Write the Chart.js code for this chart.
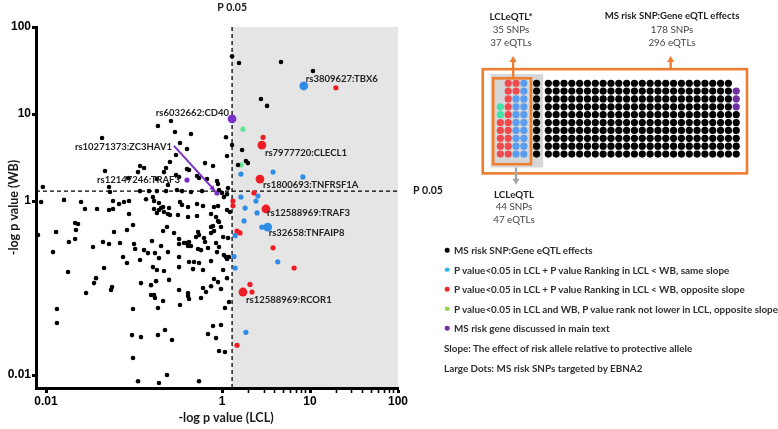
<!DOCTYPE html>
<html><head><meta charset="utf-8">
<script src="https://cdn.jsdelivr.net/npm/chart.js@4/dist/chart.umd.min.js"></script>
<style>
html,body{margin:0;padding:0;background:#fff;}
body{width:778px;height:429px;position:relative;overflow:hidden;font-family:Lato,"Open Sans",sans-serif;color:#333;}
#c1{position:absolute;left:0;top:0;}
#c2{position:absolute;left:440px;top:0;}
.t{position:absolute;white-space:nowrap;line-height:12px;transform:translate(-50%,-50%);}
.l{position:absolute;white-space:nowrap;line-height:12px;transform:translateY(-50%);font-weight:700;font-size:9.9px;color:#2e2e2e;}
.d{position:absolute;width:4.6px;height:4.6px;border-radius:50%;transform:translate(-50%,-50%);}
</style></head><body>
<canvas id="c1" width="460" height="429"></canvas>
<canvas id="c2" width="338" height="429"></canvas>
<div id="txt"></div>
<script>
// ---------- scatter data: -log p in LCL (x) vs -log p in WB (y) ----------
const blackLcl = [1.30,1.56,4.68,10.8,2.77,3.25,1.11,1.30,1.69,1.87,1.97,1.52,1.14,
0.187,0.263,0.292,0.0433,0.444,0.333,0.400,0.300,0.641,0.791,0.256,0.231,0.219,0.300,0.325,0.400,0.422,0.520,0.548,0.676,0.877,0.901,0.925,0.0468,0.117,0.130,0.111,0.0855,0.0520,0.0533,0.182,0.243,0.148,0.182,0.231,0.308,0.351,0.444,0.593,1.0,1.17,1.05,0.0088,0.0380,0.0520,0.117,0.137,0.164,0.169,0.192,0.214,0.250,0.333,0.351,0.411,0.520,0.608,0.811,0.901,1.14,1.23,1.14,
0.0092,0.0160,0.0250,0.0277,0.0577,0.0676,0.0769,0.0877,0.0577,
0.0877,0.0214,0.0231,0.0219,0.0130,0.0974,0.0832,0.0593,0.0081,0.0182,0.0214,0.0444,0.0520,0.0693,0.100,0.103,0.0120,0.0342,0.0750,0.0832,0.0456,0.0178,0.0370,0.0351,0.0562,0.0548,0.0285,
0.169,0.182,0.192,0.203,0.219,0.243,0.256,0.316,0.520,0.411,0.750,0.855,0.901,0.214,0.237,0.285,0.325,0.325,0.370,0.390,0.422,0.411,0.444,0.534,0.548,0.507,0.624,0.641,0.750,0.791,0.811,0.750,0.925,0.974,1.03,1.17,0.160,0.203,0.243,0.130,0.144,0.117,0.173,0.192,0.325,0.534,0.577,0.693,0.855,0.925,0.877,1.05,1.11,1.20,1.14,0.422,0.481,0.548,0.750,0.164,0.182,0.219,0.325,0.468,0.608,0.811,0.901,1.14,1.03,0.120,0.156,0.178,0.250,0.325,0.411,0.608,0.658,0.750,0.974,
0.156,0.169,0.173,0.214,0.187,0.333,0.411,0.422,0.577,1.08,1.20,0.120,0.187,0.225,0.270,0.693,0.791,0.974,0.855,0.925,1.08,0.111,0.192,0.237,0.548,
0.0133,0.0133,0.0974,0.0949,0.0974];
const blackWb = [46,38.6,39.6,31.2,14.9,12.4,5.4,4.4,3.86,2.88,2.73,2.59,3.29,
7.28,8.31,6.21,5.3,5.89,4.64,3.96,3.38,2.73,2.53,2.81,2.40,2.15,1.99,1.89,2.33,2.27,1.94,1.84,1.79,1.70,1.57,1.34,2.21,2.53,2.40,2.15,1.84,1.45,1.27,1.79,1.53,1.30,1.30,1.30,1.34,1.30,1.27,1.30,1.24,1.41,1.11,0.974,0.809,0.788,1.30,1.05,1.11,1.0,0.949,0.853,0.831,0.974,0.900,0.853,0.924,0.876,0.853,0.876,0.788,0.747,1.20,
1.45,1.03,0.974,0.809,1.0,0.924,0.974,1.0,0.809,
0.709,0.559,0.544,0.464,0.440,0.530,0.464,0.440,0.407,0.338,0.366,0.338,0.321,0.329,0.321,0.281,0.259,0.296,0.227,0.194,0.170,0.153,0.130,0.114,0.103,0.0949,0.0877,
0.809,0.728,0.788,0.831,0.747,0.709,0.690,0.690,0.672,0.655,0.709,0.655,0.589,0.452,0.503,0.429,0.366,0.321,0.329,0.329,0.338,0.304,0.304,0.440,0.407,0.386,0.376,0.338,0.503,0.516,0.452,0.429,0.574,0.503,0.386,0.376,0.347,0.304,0.259,0.273,0.252,0.210,0.252,0.221,0.227,0.281,0.273,0.288,0.329,0.296,0.259,0.239,0.227,0.227,0.216,0.199,0.199,0.194,0.204,0.174,0.161,0.157,0.174,0.165,0.161,0.127,0.117,0.130,0.161,0.114,0.108,0.120,0.124,0.0949,0.0877,0.100,0.0900,0.105,0.0974,
0.0831,0.0831,0.0768,0.0709,0.0589,0.0638,0.0810,0.0748,0.0768,0.0589,0.0690,0.0273,0.0288,0.0329,0.0253,0.0296,0.0366,0.0376,0.0266,0.0189,0.0184,0.0085,0.0081,0.0100,0.0085,
0.0574,0.0396,0.0574,0.0288,0.0157];

const blueLcl = [1.64,3.8,8.3,2.56,1.64,2.43,1.83,2.5,1.78,2.84,1.41,1.37,4.3,1.41,1.87];
const blueWb  = [2.04,2.15,1.89,1.14,1.11,1.0,0.83,0.73,0.59,0.50,0.40,0.23,0.20,0.17,0.031];
const redLcl  = [19.7,2.93,2.31,1.33,1.33,1.48,1.6,3.8,6.6,2.08,2.19,1.48];
const redWb   = [20,5.4,1.24,1.0,0.88,0.45,0.43,0.29,0.17,0.11,0.09,0.022];
const greenLcl = [1.73,1.64];
const greenWb  = [6.7,2.6];
const purpleLcl = [0.877,0.40];
const purpleWb  = [1.24,1.74];
const purpleNames = ['rs10271373:ZC3HAV1','rs12147246:TRAF3'];
const largeLcl = [8.5,3.3,2.84,2.7,3.16,1.73,1.30];
const largeWb  = [21,0.50,4.4,1.79,0.81,0.09,8.8];
const largeGroup = ['same','same','opposite','opposite','opposite','opposite','main'];
const largeNames = ['rs3809627:TBX6','rs32658:TNFAIP8','rs7977720:CLECL1','rs1800693:TNFRSF1A','rs12588969:TRAF3','rs12588969:RCOR1','rs6032662:CD40'];

const pCut = 1.301; // -log10(0.05)
const xTickValues = [0.01,1,2,3,4,5,6,7,8,9,10,20,30,40,50,60,70,80,90,100];
const xTickLabels = ['0.01','1','','','','','','','','','10','','','','','','','','','100'];
const yTickValues = [0.01,1,10,100];
const yTickLabels = ['0.01','1','10','100'];

// ---------- dot-grid data ----------
const lclBlockRows = ['.RRB','.RRB','.RBB','GRBB','GRBB','RRBB','RRBB','RRBB','RRBB','RRBB'];
const lclOnlyBlackCount = 10;
const wbBlackCount = 246;
const wbPurpleCount = 3;
const gridRows = 10;

const C = {black:'#000000', same:'#2f8ce6', opposite:'#ee1c24', green:'#5fe596', main:'#7b2fc9'};

function pts(xs, ys){ return xs.map((x,i)=>({x, y: ys[i]})); }

const labelOffsets = {
  'rs3809627:TBX6':[2,-7,'left'],
  'rs32658:TNFAIP8':[1,6,'left'],
  'rs7977720:CLECL1':[3,8,'left'],
  'rs1800693:TNFRSF1A':[3,6,'left'],
  'rs12588969:TRAF3':[1,4,'left'],
  'rs12588969:RCOR1':[3,8,'left'],
  'rs6032662:CD40':[-3,-6,'right'],
  'rs10271373:ZC3HAV1':[-45,-46,'right'],
  'rs12147246:TRAF3':[-7,0,'right']
};

const decor = {
  id:'decor',
  beforeDraw(chart){
    const {ctx, chartArea:a, scales:{x}} = chart;
    const xs = x.getPixelForValue(pCut);
    ctx.save(); ctx.fillStyle='#e5e5e5';
    ctx.fillRect(xs, a.top, a.right-xs, a.bottom-a.top);
    ctx.restore();
  },
  beforeDatasetsDraw(chart){
    const {ctx, chartArea:a, scales:{x,y}} = chart;
    const xs = x.getPixelForValue(pCut), ys = y.getPixelForValue(pCut);
    ctx.save(); ctx.strokeStyle='#000'; ctx.lineWidth=1.3; ctx.setLineDash([4,3]);
    ctx.beginPath(); ctx.moveTo(xs, a.top); ctx.lineTo(xs, a.bottom); ctx.stroke();
    ctx.beginPath(); ctx.moveTo(a.left, ys); ctx.lineTo(a.right, ys); ctx.stroke();
    ctx.restore();
  },
  afterDatasetsDraw(chart){
    const {ctx, scales:{x,y}} = chart;
    ctx.save();
    ctx.font = 'bold 9.5px Lato'; ctx.fillStyle='#222'; ctx.textBaseline='middle';
    const all = largeNames.map((n,i)=>[n,largeLcl[i],largeWb[i]]).concat(purpleNames.map((n,i)=>[n,purpleLcl[i],purpleWb[i]]));
    all.forEach(([n,vx,vy])=>{
      const o = labelOffsets[n]; const px = x.getPixelForValue(vx), py = y.getPixelForValue(vy);
      ctx.textAlign = o[2]; ctx.fillText(n, px+o[0], py+o[1]);
      if(n==='rs10271373:ZC3HAV1'){
        const sx=px-43, sy=py-47, ex=px-2, ey=py-2;
        ctx.strokeStyle=C.main; ctx.fillStyle=C.main; ctx.lineWidth=2;
        ctx.beginPath(); ctx.moveTo(sx,sy); ctx.lineTo(ex,ey); ctx.stroke();
        const ang=Math.atan2(ey-sy,ex-sx);
        ctx.beginPath(); ctx.moveTo(ex,ey);
        ctx.lineTo(ex-6*Math.cos(ang-0.45), ey-6*Math.sin(ang-0.45));
        ctx.lineTo(ex-6*Math.cos(ang+0.45), ey-6*Math.sin(ang+0.45));
        ctx.closePath(); ctx.fill();
        ctx.fillStyle='#222';
      }
    });
    ctx.restore();
  },
  afterDraw(chart){
    const {ctx, chartArea:a, scales:{x,y}} = chart;
    const xs = x.getPixelForValue(pCut), ys = y.getPixelForValue(pCut);
    ctx.save(); ctx.fillStyle='#1a1a1a'; ctx.textBaseline='middle';
    ctx.font='bold 10.5px Lato';
    ctx.textAlign='center'; ctx.fillText('P 0.05', xs, a.top-19);
    ctx.textAlign='left'; ctx.fillText('P 0.05', a.right+15, ys);
    ctx.font='bold 12.5px Lato'; ctx.textAlign='center';
    ctx.fillText('-log p value (LCL)', (a.left+a.right)/2+9, 418);
    ctx.restore();
  }
};

const dsDefaults = {borderWidth:0, clip:false, pointHoverRadius:0};
new Chart(document.getElementById('c1'), {
  type:'scatter',
  data:{datasets:[
    Object.assign({data:pts(blackLcl,blackWb), backgroundColor:C.black, pointRadius:2.3}, dsDefaults),
    Object.assign({data:pts(blueLcl,blueWb), backgroundColor:C.same, pointRadius:2.6}, dsDefaults),
    Object.assign({data:pts(redLcl,redWb), backgroundColor:C.opposite, pointRadius:2.6}, dsDefaults),
    Object.assign({data:pts(greenLcl,greenWb), backgroundColor:C.green, pointRadius:2.6}, dsDefaults),
    Object.assign({data:pts(purpleLcl,purpleWb), backgroundColor:C.main, pointRadius:2.6}, dsDefaults),
    Object.assign({data:pts(largeLcl,largeWb), backgroundColor:largeGroup.map(g=>C[g]), pointRadius:4.4}, dsDefaults)
  ]},
  options:{
    responsive:false, animation:false, devicePixelRatio:1,
    layout:{padding:{top:27,right:62,left:0,bottom:0}},
    plugins:{legend:{display:false}, tooltip:{enabled:false}},
    scales:{
      x:{type:'logarithmic', min:0.00769, max:100,
        afterBuildTicks:s=>{s.ticks = xTickValues.map(v=>({value:v}));},
        afterFit:s=>{s.height=41;},
        ticks:{autoSkip:false, maxRotation:0, padding:1, color:'#000', font:{family:'Liberation Sans', weight:'bold', size:12},
          callback:(v,i)=>xTickLabels[i]},
        grid:{drawOnChartArea:false, drawTicks:true, tickLength:5, tickColor:'#000', tickWidth:c=>xTickLabels[c.index]?3:1.6},
        border:{display:true, color:'#000', width:3}},
      y:{type:'logarithmic', min:0.0071, max:100,
        afterBuildTicks:s=>{s.ticks = yTickValues.map(v=>({value:v}));},
        afterFit:s=>{s.width=36;},
        ticks:{autoSkip:false, padding:1, color:'#000', font:{family:'Liberation Sans', weight:'bold', size:12},
          callback:(v,i)=>yTickLabels[i]},
        grid:{drawOnChartArea:false, drawTicks:true, tickLength:4, tickColor:'#000', tickWidth:3},
        border:{display:true, color:'#000', width:3},
        title:{display:true, text:'-log p value (WB)', color:'#1a1a1a', font:{family:'Lato', weight:'bold', size:12.5}, padding:{top:6,bottom:0}}}
    }
  },
  plugins:[decor]
});

// ---------- dot grid ----------
const G = {R:'#f2494d', B:'#5a9cf0', G:'#3fe3a3', K:'#000000', P:'#7030a0'};
const gridSets = {R:[],B:[],G:[],K:[],P:[]};
lclBlockRows.forEach((row,r)=>row.split('').forEach((ch,c)=>{ if(ch!=='.') gridSets[ch].push({x:c, y:r}); }));
for(let r=0;r<lclOnlyBlackCount;r++) gridSets.K.push({x:4.625, y:r});
for(let i=0;i<wbBlackCount+wbPurpleCount;i++){
  const col=Math.floor(i/gridRows), r=gridRows-1-(i%gridRows);
  gridSets[i<wbBlackCount?'K':'P'].push({x:6.125+col, y:r});
}
const boxes = {
  id:'boxes',
  beforeDatasetsDraw(chart){
    const {ctx, scales:{x,y}} = chart;
    const X=v=>x.getPixelForValue(v), Y=v=>y.getPixelForValue(v);
    ctx.save();
    ctx.fillStyle='#d6d6d6'; ctx.fillRect(X(-1.25),Y(-1.15),X(5.46)-X(-1.25),Y(10.71)-Y(-1.15));
    ctx.strokeStyle='#ed7d31'; ctx.lineWidth=2.6;
    ctx.strokeRect(X(-2.25),Y(-1.79),X(31.5)-X(-2.25),Y(11.46)-Y(-1.79));
    ctx.strokeRect(X(-0.91),Y(-0.625),X(3.91)-X(-0.91),Y(10.29)-Y(-0.625));
    function arrow(x0,y0,y1,color){
      const px=X(x0), p0=Y(y0), p1=Y(y1), dir=Math.sign(p1-p0);
      ctx.strokeStyle=color; ctx.fillStyle=color; ctx.lineWidth=2.4;
      ctx.beginPath(); ctx.moveTo(px,p0); ctx.lineTo(px,p1-dir*4); ctx.stroke();
      ctx.beginPath(); ctx.moveTo(px,p1); ctx.lineTo(px-3.6,p1-dir*6); ctx.lineTo(px+3.6,p1-dir*6); ctx.closePath(); ctx.fill();
    }
    arrow(1.625,-0.625,-3.45,'#ed7d31');
    arrow(21.75,-1.79,-3.45,'#ed7d31');
    arrow(2.0,10.71,12.9,'#a6a6a6');
    ctx.restore();
  }
};
new Chart(document.getElementById('c2'), {
  type:'scatter',
  data:{datasets:Object.keys(gridSets).map(k=>({data:gridSets[k], backgroundColor:G[k], borderWidth:0, pointRadius:3.6, pointHoverRadius:0, clip:false}))},
  options:{responsive:false, animation:false, devicePixelRatio:1,
    layout:{padding:0},
    plugins:{legend:{display:false}, tooltip:{enabled:false}},
    scales:{x:{type:'linear', display:false, min:-7.25, max:35},
            y:{type:'linear', display:false, min:-10.125, max:43.5, reverse:true}}},
  plugins:[boxes]
});

// ---------- texts of the right panel ----------
const txt = document.getElementById('txt');
function put(text, x, y, bold, size){
  const d=document.createElement('div'); d.className='t'; d.textContent=text;
  d.style.left=x+'px'; d.style.top=y+'px'; d.style.fontSize=size+'px'; d.style.fontWeight=bold?'700':'400';
  d.style.color = bold ? '#1e1e1e' : '#444';
  txt.appendChild(d);
}
put('LCLeQTL*',511,16,true,9.8); put('35 SNPs',511,29,false,9.8); put('37 eQTLs',511,42,false,9.8);
put('MS risk SNP:Gene eQTL effects',672,16,true,9.6); put('178 SNPs',672,29,false,9.8); put('296 eQTLs',672,42,false,9.8);
put('LCLeQTL',514,194,true,9.8); put('44 SNPs',514,206,false,9.8); put('47 eQTLs',514,219,false,9.8);

const legendLabels = ['MS risk SNP:Gene eQTL effects',
 'P value<0.05 in LCL + P value Ranking in LCL < WB, same slope',
 'P value<0.05 in LCL + P value Ranking in LCL < WB, opposite slope',
 'P value<0.05 in LCL and WB, P value rank not lower in LCL, opposite slope',
 'MS risk gene discussed in main text'];
const legendColors = ['#000000','#2cb3ee','#ee2a30','#92d050','#7030a0'];
const legendNotes = ['Slope: The effect of risk allele relative to protective allele','Large Dots: MS risk SNPs targeted by EBNA2'];
legendLabels.forEach((s,i)=>{
  const y = 250 + i*19.6;
  const dot=document.createElement('div'); dot.className='d'; dot.style.left='447px'; dot.style.top=y+'px'; dot.style.background=legendColors[i]; txt.appendChild(dot);
  const d=document.createElement('div'); d.className='l'; d.textContent=s; d.style.left='454px'; d.style.top=y+'px'; txt.appendChild(d);
});
legendNotes.forEach((s,i)=>{
  const d=document.createElement('div'); d.className='l'; d.textContent=s; d.style.left='444px'; d.style.top=(348+i*20)+'px'; txt.appendChild(d);
});
</script></body></html>
